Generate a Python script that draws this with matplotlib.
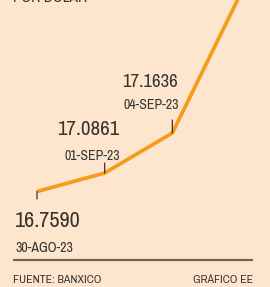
'''
plot.py
Peso / dolar FIX rate, small infographic crop.
'''
import numpy as np
import matplotlib
matplotlib.use('Agg')
import matplotlib.pyplot as plt
from matplotlib import font_manager
from matplotlib.font_manager import FontProperties

# data
dates   = ['30-AGO-23', '01-SEP-23', '04-SEP-23', '05-SEP-23']
values  = [16.7590, 17.0861, 17.1636, 17.3777]
labels  = ['16.7590', '17.0861', '17.1636']
source  = 'FUENTE: BANXICO'
credit  = 'GRÁFICO EE'
title   = 'POR DÓLAR'

# the drawing is not to scale: height (px) of each point above the first one
levels  = [0, 18.5, 58.5, 196.5]

bg      = '#fde6cd'
orange  = '#f59d1b'
ink     = '#363330'
rule    = '#6e655a'

# look for a narrow / condensed sans face, the original uses a condensed type
cands = []
for f in font_manager.fontManager.ttflist:
    if f.style != 'normal' or f.weight not in (400, 'normal', 'regular'):
        continue
    if 'Serif' in f.name or 'Mono' in f.name or 'Serif' in f.fname or 'Mono' in f.fname:
        continue
    if 'Narrow' in f.name or 'Condensed' in f.name or 'condensed' in str(f.stretch):
        cands.append(f)
cands.sort(key=lambda f: (0 if 'Narrow' in f.name else 1, f.fname))
fpath = cands[0].fname if cands else None

def fp(size, bold=False):
    if fpath:
        return FontProperties(fname=fpath, size=size)
    return FontProperties(family='DejaVu Sans', size=size,
                          weight='bold' if bold else 'normal')

W, H = 270, 287
fig = plt.figure(figsize=(W/100, H/100), dpi=100, facecolor=bg)

# pixel overlay for the texts
ax_bg = fig.add_axes([0, 0, 1, 1])
ax_bg.set_xlim(0, W)
ax_bg.set_ylim(H, 0)
ax_bg.axis('off')

#
# line axes: first point at (37,191.5) px, last point just above the top
#
y_bot, y_top = 191.5, -5.0
ax = fig.add_axes([0, (H - y_bot)/H, 1, (y_bot - y_top)/H])
ax.patch.set_alpha(0)
ax.axis('off')
fwd = lambda v: np.interp(v, values, levels)
inv = lambda l: np.interp(l, levels, values)
ax.set_yscale('function', functions=(fwd, inv))
ax.set_ylim(values[0], values[-1])
step = (240 - 37) / 3.0
ax.set_xlim(-37/step, (W - 37)/step)

x = np.arange(len(values))
ax.plot(x, values, color=orange, lw=2.7, solid_capstyle='butt',
        solid_joinstyle='round', clip_on=False, zorder=2)

# little marker ticks at the labelled points (length in px)
tick_len = [-7.5, 10, 13]
for i, d in enumerate(tick_len):
    ax.annotate('', xy=(x[i], values[i]), xytext=(0, d*0.72),
                textcoords='offset points', annotation_clip=False,
                arrowprops=dict(arrowstyle='-', color=ink, lw=0.9,
                                shrinkA=0, shrinkB=0), zorder=3)

# value + date labels (pixel positions)
ax_bg.text(150, 87, labels[2], fontproperties=fp(13.5), color=ink, ha='center', va='baseline')
ax_bg.text(151, 109, dates[2], fontproperties=fp(10), color=ink, ha='center', va='baseline')
ax_bg.text(88, 135, labels[1], fontproperties=fp(15), color=ink, ha='center', va='baseline')
ax_bg.text(92, 160, dates[1], fontproperties=fp(10), color=ink, ha='center', va='baseline')
ax_bg.text(15, 227, labels[0], fontproperties=fp(16), color=ink, ha='left', va='baseline')
ax_bg.text(15, 252, dates[0], fontproperties=fp(10), color=ink, ha='left', va='baseline')

# cut off title at the top
ax_bg.text(13, 1.5, title, fontproperties=fp(11, True), color=ink,
           ha='left', va='baseline')

# footer
ax_bg.plot([13, 253], [259.5, 259.5], color=rule, lw=1.6, solid_capstyle='butt')
ax_bg.text(13, 283, source, fontproperties=fp(8.5), color=ink, ha='left', va='baseline')
ax_bg.text(253, 283, credit, fontproperties=fp(8.5), color=ink, ha='right', va='baseline')

fig.savefig('out.png', dpi=100, facecolor=bg)
